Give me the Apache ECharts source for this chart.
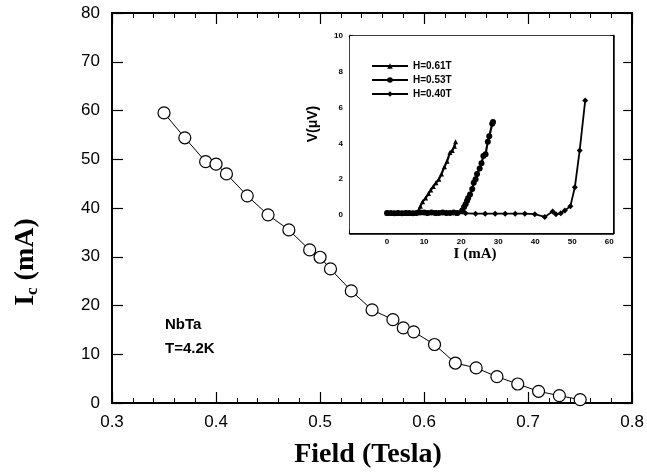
<!DOCTYPE html>
<html>
<head>
<meta charset="utf-8">
<title>Ic vs Field</title>
<script src="https://cdn.jsdelivr.net/npm/echarts@6/dist/echarts.min.js"></script>
<style>
  html, body { margin: 0; padding: 0; background: #fff; }
  #main { width: 647px; height: 474px; }
</style>
</head>
<body>
<div id="main"></div>
<script>
// main plot: critical current vs field
var fieldT = [0.35, 0.37, 0.39, 0.40, 0.41, 0.43, 0.45, 0.47, 0.49, 0.50, 0.51, 0.53,
              0.55, 0.57, 0.58, 0.59, 0.61, 0.63, 0.65, 0.67, 0.69, 0.71, 0.73, 0.75];
var icMA = [59.5, 54.4, 49.5, 49.0, 47.0, 42.5, 38.6, 35.5, 31.4, 29.9, 27.5, 23.0,
            19.1, 17.1, 15.4, 14.6, 12.0, 8.2, 7.2, 5.4, 3.9, 2.4, 1.5, 0.7];

// inset: V-I curves
var i061 = [0, 0.5, 1, 1.5, 2, 2.5, 3, 3.5, 4, 4.5, 5, 5.5, 6, 6.5, 7, 7.5, 8.2, 9.0, 9.6, 10.4,
            11.2, 11.8, 12.5, 13.2, 14.0, 14.7, 15.5, 16.2, 17.0, 17.6, 18.2, 18.5];
var v061 = [0.12, 0.1, 0.12, 0.1, 0.12, 0.1, 0.12, 0.1, 0.12, 0.1, 0.12, 0.1, 0.12, 0.1, 0.12, 0.12, 0.15, 0.5, 0.75, 0.95,
            1.2, 1.4, 1.6, 1.8, 2.0, 2.3, 2.7, 3.0, 3.5, 3.6, 3.85, 4.1];
var i053 = [0, 1, 2, 3, 4, 5, 6, 7, 8, 9, 10, 11, 12, 13, 14, 15, 16, 17, 18, 19, 20.3, 20.8,
            21.2, 21.6, 21.9, 22.4, 23.0, 23.4, 23.9, 24.3, 25.0, 25.5, 26.0, 26.6, 27.2, 27.6, 28.4, 28.6];
var v053 = [0.12, 0.12, 0.1, 0.12, 0.1, 0.12, 0.12, 0.1, 0.12, 0.15, 0.15, 0.12, 0.15, 0.12, 0.12, 0.15, 0.12, 0.12, 0.15, 0.12, 0.25, 0.45,
            0.6, 0.8, 0.95, 1.15, 1.45, 1.8, 2.0, 2.3, 2.6, 2.9, 3.3, 3.4, 4.1, 4.4, 5.1, 5.2];
var i040 = [0, 2.7, 5.4, 8.0, 10.6, 13.3, 16.0, 18.6, 21.2, 23.9, 26.5, 29.2, 31.9, 34.6, 37.2, 39.9,
            42.6, 44.7, 45.6, 46.9, 48.0, 49.5, 50.7, 52.0, 53.5];
var v040 = [0.1, 0.1, 0.1, 0.1, 0.1, 0.1, 0.1, 0.1, 0.1, 0.08, 0.08, 0.08, 0.08, 0.08, 0.08, 0.05,
            -0.1, 0.2, 0.05, 0.1, 0.25, 0.5, 1.55, 3.6, 6.4];

function pairs(xs, ys) {
  return xs.map(function (x, i) { return [x, ys[i]]; });
}

var sans = '"Liberation Sans", Arial, sans-serif';
var serif = '"Liberation Serif", "Times New Roman", serif';

function frameAxis(grid, extra) {
  var base = {
    gridIndex: grid,
    type: 'value',
    axisLine: { show: true, onZero: false, lineStyle: { color: '#000', width: 2 } },
    axisTick: { show: true, inside: true, lineStyle: { color: '#000', width: 1 } },
    splitLine: { show: false },
    axisLabel: { show: false }
  };
  return Object.assign(base, extra);
}

var insetLine = { show: true, onZero: false, lineStyle: { color: '#000', width: 2.5 } };

var chart = echarts.init(document.getElementById('main'), null, { renderer: 'canvas' });

var option = {
  animation: false,
  backgroundColor: '#fff',
  grid: [
    { left: 112, right: 12, top: 13, bottom: 71 },
    { left: 350, right: 34, top: 36, bottom: 241, show: true, backgroundColor: '#fff', borderWidth: 0, z: 3 }
  ],
  xAxis: [
    frameAxis(0, {
      min: 0.3, max: 0.8, interval: 0.1, position: 'bottom',
      axisTick: { show: true, inside: true, length: 11, lineStyle: { color: '#000', width: 1.2 } },
      minorTick: { show: true, splitNumber: 5, length: 5, lineStyle: { color: '#000', width: 1 } },
      axisLabel: { show: true, margin: 11, fontSize: 17, fontFamily: sans, color: '#000',
                   formatter: function (v) { return v.toFixed(1); } }
    }),
    frameAxis(0, {
      min: 0.3, max: 0.8, interval: 0.1, position: 'top',
      axisTick: { show: true, inside: true, length: 11, lineStyle: { color: '#000', width: 1.2 } },
      minorTick: { show: true, splitNumber: 5, length: 5, lineStyle: { color: '#000', width: 1 } }
    }),
    frameAxis(1, {
      min: -10, max: 61, interval: 5, position: 'bottom', axisLine: insetLine,
      axisTick: { show: true, inside: true, length: 3, lineStyle: { color: '#000', width: 1.5 } },
      axisLabel: { show: true, margin: 5, fontSize: 8, fontWeight: 'bold', fontFamily: sans, color: '#000',
                   formatter: function (v) { return (v >= 0 && v <= 60 && v % 10 === 0) ? String(v) : ''; } }
    }),
    frameAxis(1, {
      min: -10, max: 61, interval: 5, position: 'top', axisLine: insetLine,
      axisTick: { show: true, inside: true, length: 3, lineStyle: { color: '#000', width: 1.5 } }
    })
  ],
  yAxis: [
    frameAxis(0, {
      min: 0, max: 80, interval: 10, position: 'left',
      axisTick: { show: true, inside: true, length: 11, lineStyle: { color: '#000', width: 1.2 } },
      axisLabel: { show: true, margin: 12, fontSize: 17, fontFamily: sans, color: '#000' }
    }),
    frameAxis(0, {
      min: 0, max: 80, interval: 10, position: 'right',
      axisTick: { show: true, inside: true, length: 9, lineStyle: { color: '#000', width: 1.2 } }
    }),
    frameAxis(1, {
      min: -1, max: 10, interval: 1, position: 'left', axisLine: insetLine,
      axisTick: { show: true, inside: true, length: 3, lineStyle: { color: '#000', width: 1.5 } },
      axisLabel: { show: true, margin: 7, fontSize: 8, fontWeight: 'bold', fontFamily: sans, color: '#000',
                   formatter: function (v) { return (v >= 0 && v % 2 === 0) ? String(v) : ''; } }
    }),
    frameAxis(1, {
      min: -1, max: 10, interval: 1, position: 'right', axisLine: insetLine,
      axisTick: { show: true, inside: true, length: 3, lineStyle: { color: '#000', width: 1.5 } }
    })
  ],
  legend: {
    orient: 'vertical',
    left: 366, top: 56,
    itemWidth: 36, itemHeight: 7, itemGap: 4,
    data: ['H=0.61T', 'H=0.53T', 'H=0.40T'],
    textStyle: { fontSize: 10, fontWeight: 'bold', fontFamily: sans, color: '#000' },
    z: 10
  },
  series: [
    {
      name: 'Ic', type: 'line', xAxisIndex: 0, yAxisIndex: 0,
      data: pairs(fieldT, icMA),
      symbol: 'circle', symbolSize: 12,
      itemStyle: { color: '#fff', borderColor: '#000', borderWidth: 1.2 },
      lineStyle: { color: '#000', width: 1 }
    },
    {
      name: 'H=0.61T', type: 'line', xAxisIndex: 2, yAxisIndex: 2,
      data: pairs(i061, v061), z: 5,
      symbol: 'triangle', symbolSize: 5,
      itemStyle: { color: '#000' },
      lineStyle: { color: '#000', width: 2.2 }
    },
    {
      name: 'H=0.53T', type: 'line', xAxisIndex: 2, yAxisIndex: 2,
      data: pairs(i053, v053), z: 5,
      symbol: 'circle', symbolSize: 6,
      itemStyle: { color: '#000' },
      lineStyle: { color: '#000', width: 2.2 }
    },
    {
      name: 'H=0.40T', type: 'line', xAxisIndex: 2, yAxisIndex: 2,
      data: pairs(i040, v040), z: 5,
      symbol: 'diamond', symbolSize: 6,
      itemStyle: { color: '#000' },
      lineStyle: { color: '#000', width: 1.8 }
    }
  ],
  graphic: [
    { type: 'text', x: 165, y: 325, z: 10,
      style: { text: 'NbTa', font: 'bold 15px ' + sans, fill: '#000', align: 'left', verticalAlign: 'middle' } },
    { type: 'text', x: 165, y: 349, z: 10,
      style: { text: 'T=4.2K', font: 'bold 15px ' + sans, fill: '#000', align: 'left', verticalAlign: 'middle' } },
    { type: 'text', x: 368, y: 455, z: 10,
      style: { text: 'Field (Tesla)', font: 'bold 28px ' + serif, fill: '#000', align: 'center', verticalAlign: 'middle' } },
    { type: 'text', x: 475, y: 254, z: 10,
      style: { text: 'I (mA)', font: 'bold 15px ' + serif, fill: '#000', align: 'center', verticalAlign: 'middle' } },
    { type: 'text', x: 313, y: 124, rotation: Math.PI / 2, z: 10,
      style: { text: 'V(\u03bcV)', font: 'bold 14px ' + sans, fill: '#000', align: 'center', verticalAlign: 'middle' } },
    { type: 'text', x: 26, y: 262, rotation: Math.PI / 2, z: 10,
      style: {
        text: '{a|I}{s|c}{a| (mA)}', fill: '#000', align: 'center', verticalAlign: 'middle',
        rich: {
          a: { fontFamily: serif, fontWeight: 'bold', fontSize: 28, lineHeight: 30, verticalAlign: 'middle', fill: '#000' },
          s: { fontFamily: serif, fontWeight: 'bold', fontSize: 17, lineHeight: 14, verticalAlign: 'bottom', fill: '#000' }
        }
      } }
  ]
};

chart.setOption(option);
</script>
</body>
</html>
